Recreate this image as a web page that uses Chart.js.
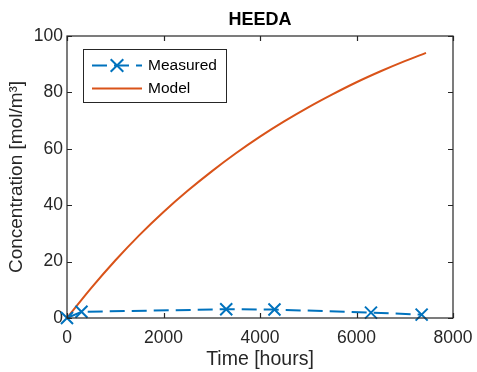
<!DOCTYPE html>
<html><head><meta charset="utf-8">
<script src="https://cdn.jsdelivr.net/npm/chart.js@4"></script>
<style>html,body{margin:0;padding:0;background:#fff;}#wrap{width:477px;height:372px;}</style>
</head><body><div id="wrap"><canvas id="c" width="477" height="372"></canvas></div>
<script>
const measuredTime = [0, 300, 3300, 4300, 6300, 7350];
const measuredConc = [0, 2.2, 3.1, 3.0, 1.9, 1.2];
const modelTime = [0, 500, 1000, 1500, 2000, 2500, 3000, 3500, 4000, 4500, 5000, 5500, 6000, 6500, 7000, 7440];
const modelConc = [0, 10.6, 20.4, 29.4, 37.6, 45.1, 52.0, 58.4, 64.3, 69.7, 74.7, 79.3, 83.6, 87.5, 91.1, 94.0];
const xTicks = [0, 2000, 4000, 6000, 8000];
const yTicks = [0, 20, 40, 60, 80, 100];
const seriesNames = ['Measured', 'Model'];
const chartTitle = 'HEEDA';

const BLUE = '#0072BD', ORANGE = '#D95319', AX = '#262626';
const FONT = "'Liberation Sans', Arial, sans-serif";
const DASH = [15, 7];

const framePlugin = {
  id: 'frame',
  afterDraw(chart) {
    const {ctx, chartArea: a, scales: {x, y}} = chart;
    ctx.save();
    ctx.strokeStyle = AX; ctx.lineWidth = 1.2;
    ctx.strokeRect(a.left, a.top, a.right - a.left, a.bottom - a.top);
    const L = 5;
    ctx.beginPath();
    xTicks.forEach(v => { const p = Math.round(x.getPixelForValue(v)) + 0.5;
      ctx.moveTo(p, a.bottom); ctx.lineTo(p, a.bottom - L);
      ctx.moveTo(p, a.top); ctx.lineTo(p, a.top + L); });
    yTicks.forEach(v => { const p = Math.round(y.getPixelForValue(v)) + 0.5;
      ctx.moveTo(a.left, p); ctx.lineTo(a.left + L, p);
      ctx.moveTo(a.right, p); ctx.lineTo(a.right - L, p); });
    ctx.stroke();
    // title
    ctx.fillStyle = '#000';
    ctx.font = 'bold 18px ' + FONT;
    ctx.textAlign = 'center'; ctx.textBaseline = 'middle';
    ctx.fillText(chartTitle, (a.left + a.right) / 2, 20);
    // legend
    const bx = 83, by = 49, bw = 143, bh = 53;
    ctx.fillStyle = '#fff'; ctx.fillRect(bx, by, bw, bh);
    ctx.strokeStyle = AX; ctx.lineWidth = 1; ctx.strokeRect(bx + 0.5, by + 0.5, bw, bh);
    const y1 = 65.5, y2 = 88.5, x0 = 92, x1 = 142;
    ctx.lineWidth = 2;
    ctx.strokeStyle = BLUE; ctx.setLineDash(DASH);
    ctx.beginPath(); ctx.moveTo(x0, y1); ctx.lineTo(x1, y1); ctx.stroke();
    ctx.setLineDash([]);
    const mx = (x0 + x1) / 2, r = 6.3;
    ctx.beginPath(); ctx.moveTo(mx - r, y1 - r); ctx.lineTo(mx + r, y1 + r);
    ctx.moveTo(mx - r, y1 + r); ctx.lineTo(mx + r, y1 - r); ctx.stroke();
    ctx.strokeStyle = ORANGE;
    ctx.beginPath(); ctx.moveTo(x0, y2); ctx.lineTo(x1, y2); ctx.stroke();
    ctx.fillStyle = '#000'; ctx.font = '15.5px ' + FONT;
    ctx.textAlign = 'left';
    ctx.fillText(seriesNames[0], 148, y1);
    ctx.fillText(seriesNames[1], 148, y2);
    ctx.restore();
  }
};

new Chart(document.getElementById('c'), {
  type: 'line',
  data: {
    datasets: [
      { label: seriesNames[0], data: measuredTime.map((t, i) => ({x: t, y: measuredConc[i]})),
        borderColor: BLUE, backgroundColor: BLUE, borderWidth: 2, borderDash: DASH,
        pointStyle: 'crossRot', pointRadius: 8.5, pointBorderWidth: 2, pointBorderColor: BLUE,
        fill: false, tension: 0, clip: false },
      { label: seriesNames[1], data: modelTime.map((t, i) => ({x: t, y: modelConc[i]})),
        borderColor: ORANGE, borderWidth: 2, pointRadius: 0, fill: false,
        cubicInterpolationMode: 'monotone' }
    ]
  },
  options: {
    responsive: false, animation: false, devicePixelRatio: 1,
    layout: { padding: { top: 36, right: 24, left: 0, bottom: 0 } },
    plugins: { legend: { display: false }, title: { display: false }, tooltip: { enabled: false } },
    scales: {
      x: { type: 'linear', min: 0, max: 8000,
        afterBuildTicks: s => { s.ticks = xTicks.map(v => ({value: v})); },
        afterFit: s => { s.height = 54; s.paddingLeft = 0; s.paddingRight = 0; },
        grid: { display: false, drawTicks: false }, border: { display: false },
        ticks: { color: AX, font: { family: FONT, size: 17.5 }, padding: 10, maxRotation: 0,
          callback: v => String(v) },
        title: { display: true, text: 'Time [hours]', color: AX, font: { family: FONT, size: 19.5 }, padding: { top: 0, bottom: 1 } } },
      y: { type: 'linear', min: 0, max: 100,
        afterBuildTicks: s => { s.ticks = yTicks.map(v => ({value: v})); },
        afterFit: s => { s.width = 67; s.paddingTop = 0; s.paddingBottom = 0; },
        grid: { display: false, drawTicks: false }, border: { display: false },
        ticks: { color: AX, font: { family: FONT, size: 17.5 }, padding: 4, callback: v => String(v) },
        title: { display: true, text: 'Concentration [mol/m³]', color: AX, font: { family: FONT, size: 19 }, padding: { top: 5, bottom: 0 } } }
    }
  },
  plugins: [framePlugin]
});
</script></body></html>
